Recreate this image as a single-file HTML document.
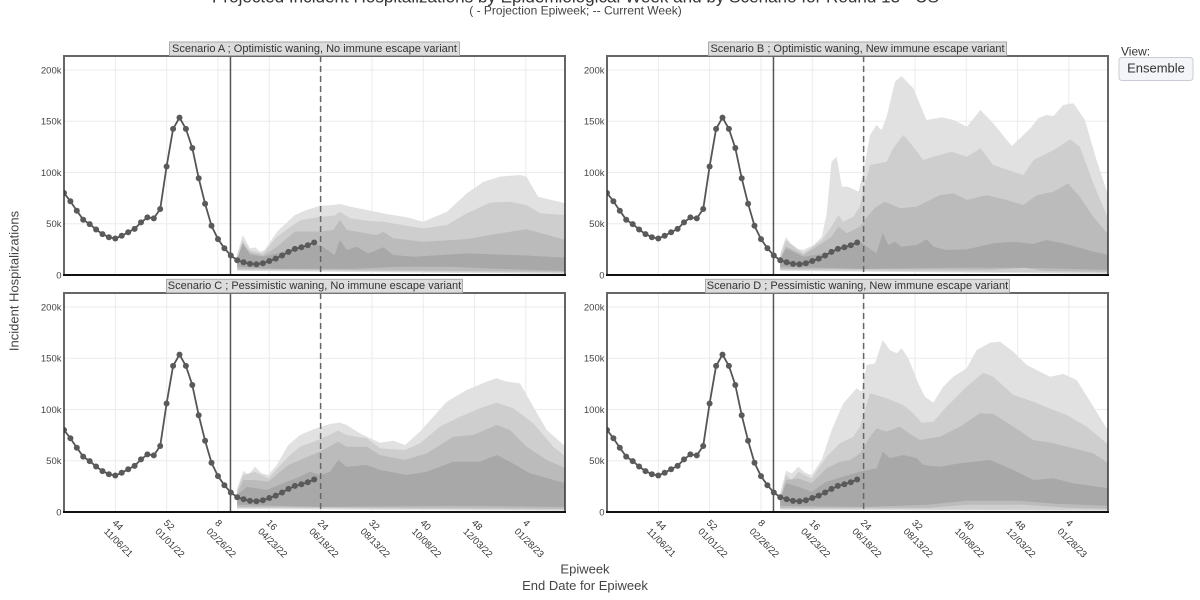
<!DOCTYPE html>
<html>
<head>
<meta charset="utf-8">
<style>
  html,body{margin:0;padding:0;background:#fff;}
  body{width:1200px;height:600px;overflow:hidden;}
  svg{display:block;font-family:"Liberation Sans",sans-serif;}
  .tk{font-size:9.5px;fill:#333;}
  .yt{font-size:9.5px;fill:#444;}
  .strip{font-size:11px;fill:#333;}
</style>
</head>
<body>
<svg id="c" width="1200" height="600" viewBox="0 0 1200 600" xmlns="http://www.w3.org/2000/svg">
  <rect x="0" y="0" width="1200" height="600" fill="#fff"/>
  <defs>
    <clipPath id="cpA"><rect x="64" y="56" width="501" height="219"/></clipPath>
    <clipPath id="cpB"><rect x="607" y="56" width="501" height="219"/></clipPath>
    <clipPath id="cpC"><rect x="64" y="293" width="501" height="219"/></clipPath>
    <clipPath id="cpD"><rect x="607" y="293" width="501" height="219"/></clipPath>
  </defs>
  <g id="grid"></g>
  <g id="bands"></g>
  <g id="lines"></g>
  <g id="obs"></g>
  <g id="borders"></g>

  <!-- Title -->
  <text x="212" y="2.5" font-size="17" fill="#333" textLength="727" lengthAdjust="spacingAndGlyphs">Projected Incident Hospitalizations by Epidemiological Week and by Scenario for Round 13 - US</text>
  <text x="575.5" y="14.5" font-size="12" fill="#444" text-anchor="middle">( - Projection Epiweek; -- Current Week)</text>

  <!-- Strips -->
  <rect x="169.5" y="42" width="290" height="13.5" fill="#dcdcdc" stroke="#aaa" stroke-width="1"/>
  <text class="strip" x="314.5" y="52" text-anchor="middle">Scenario A ; Optimistic waning, No immune escape variant</text>
  <rect x="708.5" y="42" width="298" height="13.5" fill="#dcdcdc" stroke="#aaa" stroke-width="1"/>
  <text class="strip" x="857.5" y="52" text-anchor="middle">Scenario B ; Optimistic waning, New immune escape variant</text>
  <rect x="166.5" y="279.3" width="296" height="13.4" fill="#dcdcdc" stroke="#aaa" stroke-width="1"/>
  <text class="strip" x="314.5" y="289.2" text-anchor="middle">Scenario C ; Pessimistic waning, No immune escape variant</text>
  <rect x="705.5" y="279.3" width="304" height="13.4" fill="#dcdcdc" stroke="#aaa" stroke-width="1"/>
  <text class="strip" x="857.5" y="289.2" text-anchor="middle">Scenario D ; Pessimistic waning, New immune escape variant</text>

  <!-- Y tick labels -->
  <g class="yt" text-anchor="end">
    <text x="61.5" y="278.3">0</text>
    <text x="61.5" y="227">50k</text>
    <text x="61.5" y="175.8">100k</text>
    <text x="61.5" y="124.5">150k</text>
    <text x="61.5" y="73.3">200k</text>
    <text x="604.5" y="278.3">0</text>
    <text x="604.5" y="227">50k</text>
    <text x="604.5" y="175.8">100k</text>
    <text x="604.5" y="124.5">150k</text>
    <text x="604.5" y="73.3">200k</text>
    <text x="61.5" y="515.3">0</text>
    <text x="61.5" y="464">50k</text>
    <text x="61.5" y="412.8">100k</text>
    <text x="61.5" y="361.5">150k</text>
    <text x="61.5" y="310.3">200k</text>
    <text x="604.5" y="515.3">0</text>
    <text x="604.5" y="464">50k</text>
    <text x="604.5" y="412.8">100k</text>
    <text x="604.5" y="361.5">150k</text>
    <text x="604.5" y="310.3">200k</text>
  </g>

  <!-- X tick labels, panel C -->
  <g class="tk">
    <text transform="translate(111.8,523.5) rotate(45)"><tspan x="0" y="0">44</tspan><tspan x="0" dy="12">11/06/21</tspan></text>
    <text transform="translate(163.1,523.5) rotate(45)"><tspan x="0" y="0">52</tspan><tspan x="0" dy="12">01/01/22</tspan></text>
    <text transform="translate(214.5,523.5) rotate(45)"><tspan x="0" y="0">8</tspan><tspan x="0" dy="12">02/26/22</tspan></text>
    <text transform="translate(265.8,523.5) rotate(45)"><tspan x="0" y="0">16</tspan><tspan x="0" dy="12">04/23/22</tspan></text>
    <text transform="translate(317.1,523.5) rotate(45)"><tspan x="0" y="0">24</tspan><tspan x="0" dy="12">06/18/22</tspan></text>
    <text transform="translate(368.4,523.5) rotate(45)"><tspan x="0" y="0">32</tspan><tspan x="0" dy="12">08/13/22</tspan></text>
    <text transform="translate(419.7,523.5) rotate(45)"><tspan x="0" y="0">40</tspan><tspan x="0" dy="12">10/08/22</tspan></text>
    <text transform="translate(471.1,523.5) rotate(45)"><tspan x="0" y="0">48</tspan><tspan x="0" dy="12">12/03/22</tspan></text>
    <text transform="translate(522.4,523.5) rotate(45)"><tspan x="0" y="0">4</tspan><tspan x="0" dy="12">01/28/23</tspan></text>
  </g>
  <!-- X tick labels, panel D -->
  <g class="tk">
    <text transform="translate(654.8,523.5) rotate(45)"><tspan x="0" y="0">44</tspan><tspan x="0" dy="12">11/06/21</tspan></text>
    <text transform="translate(706.1,523.5) rotate(45)"><tspan x="0" y="0">52</tspan><tspan x="0" dy="12">01/01/22</tspan></text>
    <text transform="translate(757.5,523.5) rotate(45)"><tspan x="0" y="0">8</tspan><tspan x="0" dy="12">02/26/22</tspan></text>
    <text transform="translate(808.8,523.5) rotate(45)"><tspan x="0" y="0">16</tspan><tspan x="0" dy="12">04/23/22</tspan></text>
    <text transform="translate(860.1,523.5) rotate(45)"><tspan x="0" y="0">24</tspan><tspan x="0" dy="12">06/18/22</tspan></text>
    <text transform="translate(911.4,523.5) rotate(45)"><tspan x="0" y="0">32</tspan><tspan x="0" dy="12">08/13/22</tspan></text>
    <text transform="translate(962.7,523.5) rotate(45)"><tspan x="0" y="0">40</tspan><tspan x="0" dy="12">10/08/22</tspan></text>
    <text transform="translate(1014.1,523.5) rotate(45)"><tspan x="0" y="0">48</tspan><tspan x="0" dy="12">12/03/22</tspan></text>
    <text transform="translate(1065.4,523.5) rotate(45)"><tspan x="0" y="0">4</tspan><tspan x="0" dy="12">01/28/23</tspan></text>
  </g>

  <!-- Axis titles -->
  <text transform="translate(18.5,281) rotate(-90)" text-anchor="middle" font-size="13" fill="#444">Incident Hospitalizations</text>
  <text x="585" y="573.5" text-anchor="middle" font-size="13" fill="#444">Epiweek</text>
  <text x="585" y="590" text-anchor="middle" font-size="13" fill="#444">End Date for Epiweek</text>

  <!-- View selector -->
  <text x="1121" y="55.5" font-size="12" fill="#333">View:</text>
  <rect x="1119" y="57.5" width="74" height="23" rx="3" fill="#f3f5f8" stroke="#c8cdd5" stroke-width="1"/>
  <text x="1156" y="72.5" text-anchor="middle" font-size="13" fill="#333">Ensemble</text>
</svg>

<script>
(function(){
  var NS="http://www.w3.org/2000/svg";
  var WK=6.415, SC=1.025;
  function el(tag, attrs, parent){
    var e=document.createElementNS(NS,tag);
    for(var k in attrs) e.setAttribute(k, attrs[k]);
    parent.appendChild(e); return e;
  }
  var obs=[80,72,62.7,54,49.7,44.4,39.9,36.9,35.6,38.2,41.8,45,51.3,56.2,55.2,64.4,105.9,142.5,153.6,142.5,123.9,94.4,69.6,48,35,26.1,19,14.4,12.4,10.8,10.5,11.4,13.7,16,19,22.5,25.5,27.1,29.1,31.7];

  function zip(a,b){var r=[];for(var i=0;i<a.length;i++)r.push([a[i],b[i]]);return r;}

  var P=[
   {L:64,B:275,T:56,clip:"cpA",
    h95:[[27,20],[27.85,39],[29,26],[29.8,27],[30.55,22.8],[31.3,24.4],[33.2,42.3],[36,58.5],[37.8,63.4],[39.9,67.6],[42,68.3],[43,69.3],[44.6,66.7],[47.2,63.4],[50.3,59.5],[53.4,56.3],[56,52],[59.7,61.8],[62.8,79.7],[65.4,91],[68,96],[71.1,97.6],[72.1,96],[73.9,76.4],[78.2,69.9]],
    h90:[[27,19],[27.85,34],[29,24],[31,21],[33.2,37.4],[36,50],[37,53.7],[39.9,56.9],[42.2,58],[43,61.8],[44.6,55.3],[47.2,53],[49.8,52],[53.4,48],[56,45.5],[59.7,48.8],[62.8,60.2],[66.4,70.6],[69.5,71.5],[72.1,68.3],[74.2,60.2],[78.2,58.5]],
    h80:[[27,17],[27.85,30],[29,22],[31,19],[33.2,27.6],[36,42.3],[39.9,42.3],[42,43.9],[43,53.7],[44.1,43.9],[48.7,39],[49.8,42],[51.3,35.8],[56,32.5],[62.8,35],[68,40.7],[72.1,44.6],[78.2,34.1]],
    h50:[[27,15],[27.85,31],[29,20],[31,18],[33.2,21],[36,26],[39.9,29.3],[42.2,19.5],[43,34.1],[44.1,24.4],[45.6,27.6],[47.4,21],[49.8,27],[51.3,19.5],[54.5,17.9],[62.8,21.1],[72.1,19],[78.2,16.9]],
    l50:[[27,8],[33,6],[45,6],[52,8],[60,8],[68,6],[78.2,4]],
    l80:[[27,6],[78.2,3]], l90:[[27,5],[78.2,2]], l95:[[27,4],[78.2,1]]},
   {L:607,B:275,T:56,clip:"cpB",
    h95:[[27,21],[27.9,37.4],[29.05,26],[30.6,24.4],[32.2,29.3],[33.5,37.4],[34.25,60.2],[35,110.6],[35.8,115.4],[36.6,86.2],[37.4,86.2],[38.1,84.6],[39.2,81.3],[39.9,99.2],[41,136.6],[42,146.3],[42.8,141.5],[43.6,154.5],[44.9,188.6],[45.9,194.1],[47.75,182.1],[49.8,151.2],[52.2,153.8],[54,151.2],[56.1,144.7],[58.2,161],[60.2,148],[63.1,125.9],[66,143.1],[67.2,152.8],[68.5,156.1],[69.6,155.1],[71.1,165.9],[72.7,167.5],[74.5,151.2],[76.3,112.2],[78.2,76.4]],
    h90:[[27,17.9],[27.9,34.1],[30.6,21.1],[33.5,34.1],[35,47.2],[36.05,58.5],[36.8,52],[38.4,56.9],[39.4,66.7],[40.2,89.4],[41,107.3],[43.6,110.6],[44.6,123.6],[46.2,136.6],[47.75,125.2],[49.3,112.2],[50.9,115.4],[53.7,120.3],[56.1,115.4],[58.2,123.6],[60.2,107.3],[63.3,100.8],[64.9,97.6],[66.5,112.2],[69.6,121.9],[72.2,132.4],[73.7,125.2],[75.8,89.4],[78.2,53.7]],
    h80:[[27,16.3],[27.9,28],[30.6,19.5],[33.5,30.9],[35,37.4],[36.05,47.2],[37.4,40.7],[39.4,47.2],[41,60.2],[42,66.7],[43.35,71.5],[45.7,65],[48.3,66.7],[51.9,78],[54,79.7],[56.1,73.2],[59.2,78],[62.3,73.2],[64.9,68.3],[67,78],[69.6,81.3],[71.9,89.4],[73.7,76.4],[75.8,56.9],[78.2,39]],
    h50:[[27,14.6],[27.9,26],[30.6,17.9],[34.25,21.1],[39.4,32.5],[42,21.1],[42.97,41.3],[43.85,29.3],[44.9,32.5],[45.9,27.6],[48.3,29.3],[49.8,34.8],[50.9,27.6],[52.95,24.4],[56.1,25],[60.2,30.9],[63.3,32.5],[66.5,30.2],[68.5,34.1],[71.6,30.2],[75.8,22.8],[78.2,19.5]],
    l50:[[27,8],[40,6],[55,7],[65,7],[78.2,5]],
    l80:[[27,6],[60,5],[65,7],[68,4],[78.2,3]], l90:[[27,5],[78.2,2]], l95:[[27,4],[78.2,1]]},
   {L:64,B:512,T:293,clip:"cpC",
    h95:[[27,23.1],[27.95,40.3],[28.73,36.1],[29.77,44.2],[30.81,37.7],[31.85,36.1],[33.15,45.9],[34.97,65.4],[36.79,75.1],[38.87,80.7],[40.43,83.9],[41.47,85.9],[43.02,87.2],[44.06,84.9],[46.14,76.7],[47.7,71.9],[49.26,67.6],[51.34,69.6],[53.16,65.4],[55.49,78.4],[57.57,93],[59.65,107.6],[62.77,119],[65.89,127.2],[67.45,130.4],[69,127.2],[71.08,125.5],[73.16,102.8],[75.24,80],[78.2,63.7]],
    h90:[[27,21.5],[27.95,36.1],[29.77,39.3],[31.85,32.8],[34.97,54],[36.79,63.7],[39.9,70.9],[42.76,79.4],[44.06,75.1],[47.18,71.9],[49.26,62.1],[53.16,60.5],[55.49,67],[58.6,83.3],[61.73,93],[64.85,101.2],[67.45,106.7],[70.04,101.2],[73.16,86.5],[76.28,63.7],[78.2,54]],
    h80:zip([27,27.95,29.77,31.85,34.97,36.79,39.9,42.76,44.06,47.18,49.26,53.16,56.54,60.69,63.81,67.45,69.52,72.12,75.24,78.2],[18.2,31.2,31.2,29.6,45.9,50.7,58.9,68.6,63.7,63.7,55.6,50.7,57.2,73.5,75.1,84.9,80,63.7,50.7,42.6]),
    h50:zip([27,28.48,31.59,34.71,36.79,38.35,39.9,41.47,42.76,44.06,47.18,49.26,53.42,56.54,60.69,64.85,67.45,69.52,72.64,78.2],[16.6,24.7,21.5,29.6,34.5,39.3,36.1,39.3,50.7,44.2,45.9,41,36.1,39.3,49.1,49.1,55.6,49.1,37.7,28]),
    l50:[[27,7],[40,5],[60,6],[78.2,5]],
    l80:[[27,5],[78.2,3]], l90:[[27,4],[78.2,2]], l95:[[27,3],[78.2,1]]},
   {L:607,B:512,T:293,clip:"cpD",
    h95:[[27,18.2],[27.9,40.3],[28.79,37.7],[29.83,44.2],[30.87,38.4],[31.9,36.1],[33.46,50.7],[35.03,80],[36.84,106],[38.92,120.7],[39.7,117.4],[40.48,143.4],[41.78,145],[42.97,167.8],[44.12,158],[45.15,154.8],[45.93,159.7],[46.97,149.9],[48.53,125.5],[49.57,112.5],[50.87,106.7],[52.43,122.3],[53.99,132],[56.07,140.2],[57.62,158],[59.7,165.2],[61.26,166.2],[63.34,156.4],[65.42,143.4],[69.06,132],[71.14,134.6],[73.22,128.8],[75.81,102.8],[78.2,78.4]],
    h90:[[27,14.9],[27.9,36.1],[28.79,31.2],[29.83,39.3],[31.9,32.8],[34.24,54],[36.32,67],[38.4,73.5],[39.44,83.3],[41,115.8],[43.6,110.9],[46.19,104.4],[47.75,96.3],[49.05,87.2],[50.87,88.1],[52.95,102.8],[56.07,122.3],[58.66,135.9],[60.22,132],[63.34,114.1],[66.46,107.6],[69.58,99.5],[71.66,94.6],[74.77,83.3],[78.2,65.4]],
    h80:zip([27,27.9,29.83,31.9,34.24,36.32,37.88,39.44,41.0,42.04,43.6,45.67,47.23,48.79,51.91,55.03,58.14,60.22,63.34,66.46,69.58,72.69,75.81,78.2],[13.3,31.2,32.8,28,42.6,49.1,50.7,57.2,73.5,81.6,78.4,83.3,76.1,70.2,73.5,83.3,96.3,95.6,83.3,70.2,67,62.1,57.2,47.5]),
    h50:zip([27,27.9,29.83,31.9,34.24,36.84,39.44,42.04,42.97,44.12,46.19,48.27,49.31,51.91,55.03,59.7,63.34,66.46,69.58,72.69,78.2],[11.7,28,24.7,19.8,29.6,34.5,39.3,42.6,58.9,52.4,55.6,52.4,45.9,44.2,47.5,50.7,41,31.2,32.8,28,23.1]),
    l50:[[27,6],[40,5],[50,7],[56,11],[64,11],[70,8],[78.2,6]],
    l80:[[27,4],[50,4],[56,7],[65,7],[72,4],[78.2,3]], l90:[[27,3],[78.2,2]], l95:[[27,2],[78.2,1]]}
  ];

  var grid=document.getElementById('grid'), bands=document.getElementById('bands'),
      lines=document.getElementById('lines'), og=document.getElementById('obs'),
      borders=document.getElementById('borders');

  P.forEach(function(p){
    var R=p.L+501;
    function X(i){return p.L+i*WK;}
    function Y(v){return p.B-v*SC;}
    for(var k=1;k<=4;k++){
      var y=Y(k*50);
      el('line',{x1:p.L,x2:R,y1:y,y2:y,stroke:'#ebebeb','stroke-width':1},grid);
    }
    for(var t=8;t<=72;t+=8){
      var x=X(t);
      el('line',{x1:x,x2:x,y1:p.T,y2:p.B,stroke:'#ebebeb','stroke-width':1},grid);
    }
    var g=el('g',{'clip-path':'url(#'+p.clip+')'},bands);
    function band(hi,lo,col){
      var d='';
      hi.forEach(function(pt,j){d+=(j?'L':'M')+X(pt[0]).toFixed(1)+','+Y(pt[1]).toFixed(1);});
      for(var j=lo.length-1;j>=0;j--){d+='L'+X(lo[j][0]).toFixed(1)+','+Y(lo[j][1]).toFixed(1);}
      d+='Z';
      el('path',{d:d,fill:col,stroke:'none'},g);
    }
    band(p.h95,p.l95,'#e1e1e1');
    band(p.h90,p.l90,'#cecece');
    band(p.h80,p.l80,'#bbbbbb');
    band(p.h50,p.l50,'#a8a8a8');
    var xs=X(25.95);
    el('line',{x1:xs,x2:xs,y1:p.T,y2:p.B,stroke:'#555','stroke-width':1.5},lines);
    var xd=X(40);
    el('line',{x1:xd,x2:xd,y1:p.T,y2:p.B,stroke:'#666','stroke-width':1.5,'stroke-dasharray':'6,4'},lines);
    var og2=el('g',{'clip-path':'url(#'+p.clip+')'},og);
    var pts=obs.map(function(v,i){return X(i).toFixed(1)+','+Y(v).toFixed(1);}).join(' ');
    el('polyline',{points:pts,fill:'none',stroke:'#555','stroke-width':1.8,'stroke-linejoin':'round'},og2);
    obs.forEach(function(v,i){
      el('circle',{cx:X(i).toFixed(1),cy:Y(v).toFixed(1),r:3,fill:'#5a5a5a'},og2);
    });
    el('rect',{x:p.L,y:p.T,width:501,height:p.B-p.T,fill:'none',stroke:'#333','stroke-width':1.5},borders);
    el('line',{x1:p.L-1,x2:R+1,y1:p.T,y2:p.T,stroke:'#666','stroke-width':2},borders);
    el('line',{x1:p.L-1,x2:R+1,y1:p.B,y2:p.B,stroke:'#111','stroke-width':2},borders);
  });
})();
</script>
</body>
</html>
